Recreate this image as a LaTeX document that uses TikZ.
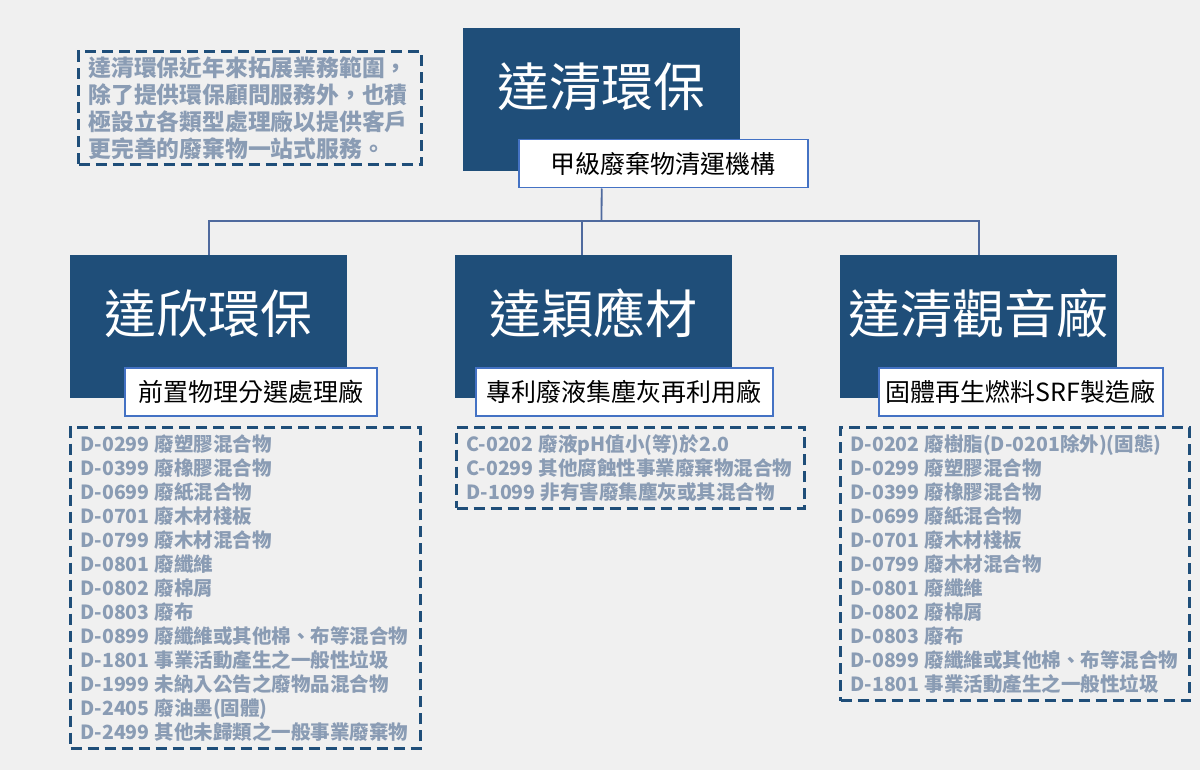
\documentclass[tikz,border=0pt]{standalone}
\usepackage{fontspec}
\setmainfont{Noto Sans CJK TC}
\newcommand\listfont{\bfseries\fontsize{19.5}{24}\selectfont}
\newcommand\gap{\kern5pt\relax}
\usetikzlibrary{positioning}
\definecolor{darkblue}{HTML}{1F4E79}
\definecolor{linkblue}{HTML}{4F6A9E}
\definecolor{frameblue}{HTML}{4472C4}
\definecolor{itemgray}{HTML}{8A9CB4}
\definecolor{paper}{HTML}{F0F0F0}
\tikzset{
    company/.style={fill=darkblue, text=white, inner sep=0pt, minimum width=277pt,
        text height=78pt, text depth=65pt, anchor=north west, font=\fontsize{52}{52}\selectfont},
    plant/.style={draw=frameblue, line width=1.5pt, fill=white, inner sep=0pt, anchor=north west,
        minimum height=48pt, minimum width=#1, font=\fontsize{25}{25}\selectfont},
    wastes/.style={draw=darkblue, line width=3pt, dash pattern=on 11pt off 6pt, align=left,
        anchor=north west, inner xsep=10pt, inner ysep=7pt, text=itemgray, text width=#1,
        font=\listfont},
    link/.style={draw=linkblue, line width=1.8pt}
}
\begin{document}
\begin{tikzpicture}[x=1pt, y=-1pt]
            \fill[paper] (0,0) rectangle (1200,770);
            \useasboundingbox (0,0) rectangle (1200,770);
            \node[wastes=323pt, inner ysep=5pt, font=\bfseries\fontsize{22.8}{27}\selectfont] (intro) at (77,50)
                {達清環保近年來拓展業務範圍，\\除了提供環保顧問服務外，也積\\極設立各類型處理廠以提供客戶\\更完善的廢棄物一站式服務。};
            \node[company] (dq) at (463,28) {達清環保};
            \node[plant=289pt] (dqsub) at (518,139) {甲級廢棄物清運機構};
            \node[company] (dx) at (70,255) {達欣環保};
            \node[plant=252pt] (dxsub) at (124,367) {前置物理分選處理廠};
            \node[company] (dy) at (455,255) {達穎應材};
            \node[plant=297pt] (dysub) at (475,367) {專利廢液集塵灰再利用廠};
            \node[company] (gy) at (840,255) {達清觀音廠};
            \node[plant=284pt] (gysub) at (878,367) {固體再生燃料SRF製造廠};
            \node[wastes=330pt] (dxlist) at (69,426) {D-0299\gap 廢塑膠混合物\\D-0399\gap 廢橡膠混合物\\D-0699\gap 廢紙混合物\\D-0701\gap 廢木材棧板\\D-0799\gap 廢木材混合物\\D-0801\gap 廢纖維\\D-0802\gap 廢棉屑\\D-0803\gap 廢布\\D-0899\gap 廢纖維或其他棉、布等混合物\\D-1801\gap 事業活動產生之一般性垃圾\\D-1999\gap 未納入公告之廢物品混合物\\D-2405\gap 廢油墨(固體)\\D-2499\gap 其他未歸類之一般事業廢棄物};
            \node[wastes=328pt] (dylist) at (455,426) {C-0202\gap 廢液pH值小(等)於2.0\\C-0299\gap 其他腐蝕性事業廢棄物混合物\\D-1099\gap 非有害廢集塵灰或其混合物};
            \node[wastes=329pt] (gylist) at (839,426) {D-0202\gap 廢樹脂(D-0201除外)(固態)\\D-0299\gap 廢塑膠混合物\\D-0399\gap 廢橡膠混合物\\D-0699\gap 廢紙混合物\\D-0701\gap 廢木材棧板\\D-0799\gap 廢木材混合物\\D-0801\gap 廢纖維\\D-0802\gap 廢棉屑\\D-0803\gap 廢布\\D-0899\gap 廢纖維或其他棉、布等混合物\\D-1801\gap 事業活動產生之一般性垃圾};
            \coordinate (bus) at (601.5,221);
            \draw[link] (dq.south |- dqsub.south) -- (bus);
            \draw[link] (bus) -| (dx.north);
            \draw[link] (bus) -| ([xshift=-12pt]dy.north);
            \draw[link] (bus) -| (gy.north);
        \end{tikzpicture}
\end{document}
